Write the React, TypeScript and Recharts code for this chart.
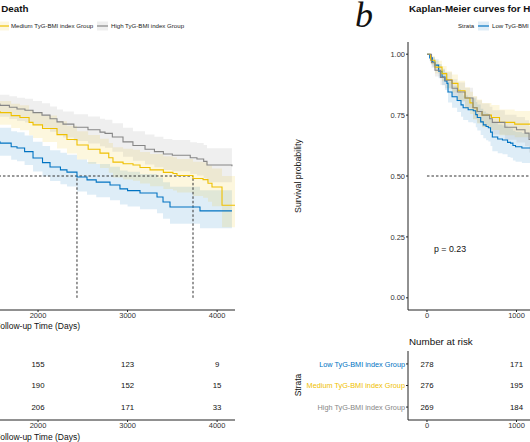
import React from 'react';
import { ComposedChart, Line, Area, XAxis, YAxis, ReferenceLine, ScatterChart, Scatter, Label } from 'recharts';

const BLUE = '#0073C2';
const GOLD = '#EFC000';
const GREY = '#868686';
const FONT = '"Liberation Sans", Arial, sans-serif';

const strataNames = ['Low TyG-BMI index Group', 'Medium TyG-BMI index Group', 'High TyG-BMI index Group'];
const strataColors = [BLUE, GOLD, GREY];
const strataRows = [3, 2, 1];
const survTicks = [0, 0.25, 0.5, 0.75, 1];
const timeTicksA = [2000, 3000, 4000];
const timeTicksB = [0, 1000];

// Panel a: [time, survival, lower CI, upper CI]
const aLow: number[][] = [
  [1500, .640, .588, .703], [1575, .635, .583, .698], [1700, .620, .567, .684], [1765, .615, .561, .680],
  [1850, .600, .545, .666], [1944, .574, .518, .641], [2050, .555, .498, .623], [2134, .537, .479, .606],
  [2250, .525, .466, .595], [2323, .516, .457, .587], [2435, .496, .436, .568], [2547, .484, .423, .557],
  [2650, .475, .413, .549], [2804, .463, .400, .538], [2915, .447, .383, .523], [3000, .440, .375, .517],
  [3139, .430, .364, .508], [3329, .414, .347, .494], [3396, .393, .325, .474], [3474, .373, .304, .456],
  [3809, .357, .286, .442], [4166, .357, .286, .442],
];
const aMed: number[][] = [
  [1500, .765, .715, .812], [1575, .760, .710, .808], [1700, .748, .697, .797], [1798, .740, .688, .790],
  [1900, .720, .667, .771], [1944, .710, .656, .762], [2050, .695, .640, .748], [2212, .670, .613, .725],
  [2323, .650, .592, .706], [2435, .627, .568, .684], [2560, .610, .550, .668], [2692, .594, .533, .653],
  [2790, .575, .513, .635], [2837, .557, .494, .618], [2950, .550, .486, .612], [3061, .545, .480, .608],
  [3139, .535, .469, .599], [3251, .525, .458, .590], [3400, .515, .447, .581], [3507, .510, .441, .577],
  [3552, .502, .432, .570], [3731, .490, .418, .559], [3843, .485, .411, .556], [3898, .470, .394, .543],
  [3943, .455, .376, .531], [4055, .380, .290, .500], [4200, .380, .290, .500],
];
const aHigh: number[][] = [
  [1500, .795, .748, .838], [1575, .790, .743, .834], [1680, .782, .734, .827], [1765, .775, .726, .821],
  [1854, .770, .720, .817], [1944, .760, .709, .808], [2044, .750, .698, .799], [2134, .735, .682, .785],
  [2212, .722, .668, .773], [2279, .713, .658, .765], [2400, .700, .644, .753], [2558, .690, .633, .744],
  [2692, .680, .622, .735], [2748, .675, .616, .731], [2830, .660, .600, .717], [2949, .640, .579, .698],
  [3060, .625, .563, .684], [3195, .610, .547, .670], [3300, .600, .536, .661], [3400, .590, .525, .652],
  [3500, .585, .519, .648], [3700, .575, .508, .639], [3775, .570, .502, .635], [3850, .560, .491, .627],
  [3887, .545, .474, .614], [4166, .540, .469, .610],
];
const aMedians = [2435, 3731];
const aRiskTimes = [2000, 3000, 4000];
const aRiskLow = [155, 123, 9];
const aRiskMed = [190, 152, 15];
const aRiskHigh = [206, 171, 33];

// Panel b
const bLow: number[][] = [
  [0, 1, 1, 1], [30, .985, .971, .999], [60, .968, .948, .988], [89, .955, .931, .979],
  [130, .930, .901, .959], [168, .906, .872, .940], [200, .890, .853, .927], [223, .880, .841, .919],
  [235, .845, .802, .888], [280, .825, .780, .870], [337, .810, .763, .857], [380, .792, .743, .841],
  [404, .780, .730, .830], [460, .772, .721, .823], [517, .768, .717, .819], [545, .752, .700, .804],
  [562, .740, .687, .793], [600, .722, .668, .776], [629, .710, .655, .765], [660, .703, .647, .759],
  [685, .698, .642, .754], [710, .680, .623, .737], [730, .660, .602, .718], [790, .652, .593, .711],
  [843, .648, .589, .707], [900, .638, .578, .698], [933, .635, .575, .695], [960, .625, .564, .686],
  [989, .620, .559, .681], [1060, .615, .553, .677], [1157, .610, .548, .672], [1250, .605, .543, .667],
];
const bMed: number[][] = [
  [0, 1, 1, 1], [40, .975, .957, .993], [89, .947, .921, .973], [168, .920, .889, .951],
  [220, .895, .860, .930], [279, .880, .843, .917], [346, .850, .809, .891], [425, .820, .776, .864],
  [480, .800, .754, .846], [514, .780, .732, .828], [560, .765, .716, .814], [615, .750, .700, .800],
  [720, .740, .689, .791], [810, .720, .667, .773], [980, .713, .659, .767], [1157, .700, .645, .755],
  [1250, .698, .643, .753],
];
const bHigh: number[][] = [
  [0, 1, 1, 1], [50, .965, .944, .986], [89, .934, .908, .960], [150, .905, .874, .936],
  [201, .893, .860, .926], [280, .860, .823, .897], [340, .845, .806, .884], [425, .820, .778, .862],
  [514, .780, .735, .825], [560, .765, .719, .811], [615, .750, .702, .798], [700, .735, .686, .784],
  [730, .720, .670, .770], [870, .700, .649, .751], [1000, .690, .638, .742], [1095, .676, .623, .729],
  [1140, .650, .596, .704], [1250, .645, .591, .699],
];
const bMedians: number[] = [];
const bRiskTimes = [0, 1000];
const bRiskLow = [278, 171];
const bRiskMed = [276, 195];
const bRiskHigh = [269, 184];

type Pt = { t: number; s: number; band: number[] };
const toPts = (a: number[][]): Pt[] => a.map(([t, s, lo, hi]) => ({ t, s, band: [lo, hi] }));
const toRisk = (times: number[], groups: number[][]) =>
  groups.flatMap((g, gi) => g.map((n, i) => ({ t: times[i], row: strataRows[gi], n })));

const YW = 45;
const PW = 395;
const TW = 130;
const DOMAIN: [number, number] = [-212, 4200];

const StrataTick = (props: any) => {
  const { x, y, payload } = props;
  const idx = strataRows.indexOf(payload.value);
  return (
    <text x={x} y={y} dy="0.355em" textAnchor="end" fontSize={7.3} fill={strataColors[idx]} fontFamily={FONT}>
      {strataNames[idx]}
    </text>
  );
};

const RiskCell = (props: any) => (
  <text x={props.cx} y={props.cy} dy="0.355em" textAnchor="middle" fontSize={7.8} fill="#111" fontFamily={FONT}>
    {props.payload.n}
  </text>
);

function Panel(props: {
  axisX: number; curves: Pt[][]; medians: number[]; hEnd: number;
  risk: { t: number; row: number; n: number }[]; xTicks: number[]; showY: boolean; showXTitle: boolean;
}) {
  const { axisX, curves, medians, hEnd, risk, xTicks, showY, showXTitle } = props;
  const axisStyle = { stroke: '#222', strokeWidth: 1 };
  return (
    <>
      <div style={{ position: 'absolute', left: axisX - YW, top: 0 }}>
        <ComposedChart width={YW + PW + 5} height={340} margin={{ top: 42, right: 5, bottom: 0, left: 0 }} style={{ fontFamily: FONT }}>
          <XAxis type="number" dataKey="t" domain={DOMAIN} allowDataOverflow ticks={xTicks} interval={0} height={30}
            tickSize={2} tickMargin={1} axisLine={axisStyle} tickLine={axisStyle} tick={{ fontSize: 7.5, fill: '#333' }}>
            {showXTitle && <Label value="Follow-up Time (Days)" position="insideBottom" offset={11} style={{ fontSize: 8.5, fill: '#111' }} />}
          </XAxis>
          <YAxis type="number" domain={[-0.05, 1.05]} allowDataOverflow ticks={survTicks} interval={0} width={YW}
            tickSize={2} tickMargin={1} axisLine={axisStyle} tickLine={showY ? axisStyle : false}
            tick={showY ? { fontSize: 7.5, fill: '#333' } : false} tickFormatter={(v: number) => v.toFixed(2)} />
          {curves.map((c, i) => (
            <Area key={'a' + i} data={c} dataKey="band" type="stepAfter" stroke="none" fill={strataColors[i]}
              fillOpacity={0.13} isAnimationActive={false} activeDot={false} />
          ))}
          <ReferenceLine segment={[{ x: 0, y: 0.5 }, { x: hEnd, y: 0.5 }]} stroke="#333" strokeDasharray="2.5 2" strokeWidth={1} />
          {medians.map((m) => (
            <ReferenceLine key={m} segment={[{ x: m, y: 0 }, { x: m, y: 0.5 }]} stroke="#333" strokeDasharray="2.5 2" strokeWidth={1} />
          ))}
          {curves.map((c, i) => (
            <Line key={'l' + i} data={c} dataKey="s" type="stepAfter" stroke={strataColors[i]} strokeWidth={1.1}
              dot={false} activeDot={false} isAnimationActive={false} />
          ))}
        </ComposedChart>
      </div>
      <div style={{ position: 'absolute', left: axisX - TW, top: 330 }}>
        <ScatterChart width={TW + PW + 5} height={112} margin={{ top: 21, right: 5, bottom: 0, left: 0 }} style={{ fontFamily: FONT }}>
          <XAxis type="number" dataKey="t" domain={DOMAIN} allowDataOverflow ticks={xTicks} interval={0} height={22}
            tickSize={2} tickMargin={1} axisLine={axisStyle} tickLine={axisStyle} tick={{ fontSize: 7.5, fill: '#333' }}>
            {showXTitle && <Label value="Follow-up Time (Days)" position="insideBottom" offset={2} style={{ fontSize: 8.5, fill: '#111' }} />}
          </XAxis>
          <YAxis type="number" dataKey="row" domain={[0.4, 3.6]} allowDataOverflow ticks={[1, 2, 3]} interval={0} width={TW}
            tickSize={2} tickMargin={1} axisLine={axisStyle} tickLine={showY ? axisStyle : false}
            tick={showY ? <StrataTick /> : false} />
          <Scatter data={risk} shape={RiskCell} isAnimationActive={false} />
        </ScatterChart>
      </div>
    </>
  );
}

function LegendRow({ x0 }: { x0: number }) {
  const keyX = [20, 108, 207];
  const textX = [34, 121, 221];
  return (
    <g>
      <text x={x0} y={28.2} fontSize={6.1} fill="#222">Strata</text>
      {strataNames.map((n, i) => (
        <g key={n}>
          <rect x={x0 + keyX[i]} y={21.5} width={11} height={9} fill={strataColors[i]} fillOpacity={0.13} />
          <line x1={x0 + keyX[i]} x2={x0 + keyX[i] + 11} y1={26} y2={26} stroke={strataColors[i]} strokeWidth={1.2} />
          <text x={x0 + textX[i]} y={28.2} fontSize={6.1} fill="#222">{n}</text>
        </g>
      ))}
    </g>
  );
}

export default function App() {
  const aCurves = [toPts(aLow), toPts(aMed), toPts(aHigh)];
  const bCurves = [toPts(bLow), toPts(bMed), toPts(bHigh)];
  const aRisk = toRisk(aRiskTimes, [aRiskLow, aRiskMed, aRiskHigh]);
  const bRisk = toRisk(bRiskTimes, [bRiskLow, bRiskMed, bRiskHigh]);
  return (
    <div style={{ position: 'absolute', left: 0, top: 0, width: 530, height: 442, overflow: 'hidden', background: '#fff', fontFamily: FONT }}>
      <Panel axisX={-160} curves={aCurves} medians={aMedians} hEnd={3731} risk={aRisk} xTicks={timeTicksA} showY={false} showXTitle={true} />
      <Panel axisX={408} curves={bCurves} medians={bMedians} hEnd={4200} risk={bRisk} xTicks={timeTicksB} showY={true} showXTitle={false} />
      <svg width={530} height={442} style={{ position: 'absolute', left: 0, top: 0, fontFamily: FONT, pointerEvents: 'none' }}>
        <text x={-159} y={11.5} fontSize={9.8} fontWeight="bold" fill="#111">Kaplan-Meier curves for All-cause Death</text>
        <text x={409} y={11.5} fontSize={9.8} fontWeight="bold" fill="#111">Kaplan-Meier curves for Hospital Death</text>
        <LegendRow x0={-110} />
        <LegendRow x0={458} />
        <text x={355} y={27} fontSize={36} fontStyle="italic" fontFamily='"Liberation Serif", "Times New Roman", serif' fill="#111">b</text>
        <text x={434} y={252} fontSize={8.8} fill="#111">p = 0.23</text>
        <text transform="translate(301,176) rotate(-90)" textAnchor="middle" fontSize={8.8} fill="#111">Survival probability</text>
        <text x={409} y={344.5} fontSize={9.8} fill="#111">Number at risk</text>
        <text transform="translate(301,385) rotate(-90)" textAnchor="middle" fontSize={8.5} fill="#111">Strata</text>
      </svg>
    </div>
  );
}
